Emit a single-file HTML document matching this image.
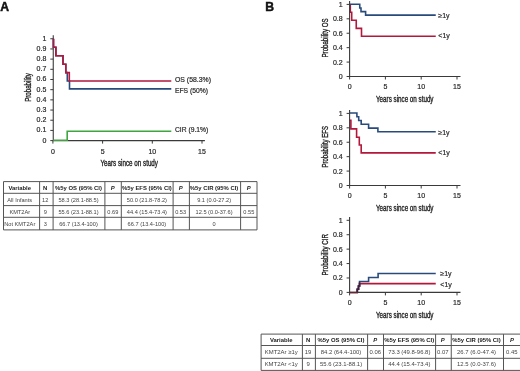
<!DOCTYPE html>
<html><head><meta charset="utf-8"><title>Figure</title>
<style>
html,body{margin:0;padding:0;background:#fff;}
body{width:520px;height:371px;overflow:hidden;}
svg{display:block;font-family:"Liberation Sans", sans-serif;will-change:transform;}
</style></head><body>
<svg width="520" height="371" viewBox="0 0 520 371">
<rect width="520" height="371" fill="#fff"/>
<text x="0.2" y="10.55" font-size="12.2" font-weight="bold" fill="#111" stroke="#111" stroke-width="0.45">A</text>
<text x="265.2" y="10.55" font-size="12.2" font-weight="bold" fill="#111" stroke="#111" stroke-width="0.45">B</text>
<path d="M53.25,35.3 V140.6 H204.9" fill="none" stroke="#3a3a3a" stroke-width="1.1"/>
<path d="M50.3,140.60 H53.25" stroke="#3a3a3a" stroke-width="1"/>
<text x="46.30" y="142.51" font-size="7" text-anchor="end" fill="#2a2a2a" stroke="#2a2a2a" stroke-width="0.2">0</text>
<path d="M50.3,130.41 H53.25" stroke="#3a3a3a" stroke-width="1"/>
<text x="46.30" y="132.32" font-size="7" text-anchor="end" fill="#2a2a2a" stroke="#2a2a2a" stroke-width="0.2">0.1</text>
<path d="M50.3,120.23 H53.25" stroke="#3a3a3a" stroke-width="1"/>
<text x="46.30" y="122.14" font-size="7" text-anchor="end" fill="#2a2a2a" stroke="#2a2a2a" stroke-width="0.2">0.2</text>
<path d="M50.3,110.05 H53.25" stroke="#3a3a3a" stroke-width="1"/>
<text x="46.30" y="111.95" font-size="7" text-anchor="end" fill="#2a2a2a" stroke="#2a2a2a" stroke-width="0.2">0.3</text>
<path d="M50.3,99.86 H53.25" stroke="#3a3a3a" stroke-width="1"/>
<text x="46.30" y="101.77" font-size="7" text-anchor="end" fill="#2a2a2a" stroke="#2a2a2a" stroke-width="0.2">0.4</text>
<path d="M50.3,89.67 H53.25" stroke="#3a3a3a" stroke-width="1"/>
<text x="46.30" y="91.58" font-size="7" text-anchor="end" fill="#2a2a2a" stroke="#2a2a2a" stroke-width="0.2">0.5</text>
<path d="M50.3,79.49 H53.25" stroke="#3a3a3a" stroke-width="1"/>
<text x="46.30" y="81.40" font-size="7" text-anchor="end" fill="#2a2a2a" stroke="#2a2a2a" stroke-width="0.2">0.6</text>
<path d="M50.3,69.31 H53.25" stroke="#3a3a3a" stroke-width="1"/>
<text x="46.30" y="71.21" font-size="7" text-anchor="end" fill="#2a2a2a" stroke="#2a2a2a" stroke-width="0.2">0.7</text>
<path d="M50.3,59.12 H53.25" stroke="#3a3a3a" stroke-width="1"/>
<text x="46.30" y="61.03" font-size="7" text-anchor="end" fill="#2a2a2a" stroke="#2a2a2a" stroke-width="0.2">0.8</text>
<path d="M50.3,48.94 H53.25" stroke="#3a3a3a" stroke-width="1"/>
<text x="46.30" y="50.84" font-size="7" text-anchor="end" fill="#2a2a2a" stroke="#2a2a2a" stroke-width="0.2">0.9</text>
<path d="M50.3,38.75 H53.25" stroke="#3a3a3a" stroke-width="1"/>
<text x="46.30" y="40.66" font-size="7" text-anchor="end" fill="#2a2a2a" stroke="#2a2a2a" stroke-width="0.2">1</text>
<path d="M52.90,140.6 V143.6" stroke="#3a3a3a" stroke-width="1"/>
<text x="52.90" y="153.51" font-size="7" text-anchor="middle" fill="#2a2a2a" stroke="#2a2a2a" stroke-width="0.2">0</text>
<path d="M102.60,140.6 V143.6" stroke="#3a3a3a" stroke-width="1"/>
<text x="102.60" y="153.51" font-size="7" text-anchor="middle" fill="#2a2a2a" stroke="#2a2a2a" stroke-width="0.2">5</text>
<path d="M152.30,140.6 V143.6" stroke="#3a3a3a" stroke-width="1"/>
<text x="152.30" y="153.51" font-size="7" text-anchor="middle" fill="#2a2a2a" stroke="#2a2a2a" stroke-width="0.2">10</text>
<path d="M202.00,140.6 V143.6" stroke="#3a3a3a" stroke-width="1"/>
<text x="202.00" y="153.51" font-size="7" text-anchor="middle" fill="#2a2a2a" stroke="#2a2a2a" stroke-width="0.2">15</text>
<text x="129.20" y="166.20" font-size="8.8" text-anchor="middle" textLength="57.6" lengthAdjust="spacingAndGlyphs" fill="#222" stroke="#222" stroke-width="0.35">Years since on study</text>
<text transform="translate(30.90,87.45) rotate(-90)" x="0" y="0" font-size="8.8" text-anchor="middle" textLength="28.7" lengthAdjust="spacingAndGlyphs" fill="#222" stroke="#222" stroke-width="0.35">Probability</text>
<path d="M53.25,140.3 H67.2 V131.3 H171.3" fill="none" stroke="#3fa63f" stroke-width="1.6"/>
<path d="M53.25,38.8 V47.2 H55.9 V55.7 H63.0 V64.2 H65.8 V72.6 H67.3 V81.0 H69.5 V88.9 H171.3" fill="none" stroke="#294b7c" stroke-width="1.6"/>
<path d="M53.7,38.8 V47.2 H55.9 V55.7 H63.0 V64.2 H65.8 V72.6 H69.3 V81.0 H171.3" fill="none" stroke="#b3173c" stroke-width="1.6"/>
<text x="175.00" y="82.41" font-size="7" textLength="36" lengthAdjust="spacingAndGlyphs" fill="#2a2a2a" stroke="#2a2a2a" stroke-width="0.2">OS (58.3%)</text>
<text x="175.00" y="92.81" font-size="7" textLength="33" lengthAdjust="spacingAndGlyphs" fill="#2a2a2a" stroke="#2a2a2a" stroke-width="0.2">EFS (50%)</text>
<text x="175.00" y="132.41" font-size="7" textLength="33.2" lengthAdjust="spacingAndGlyphs" fill="#2a2a2a" stroke="#2a2a2a" stroke-width="0.2">CIR (9.1%)</text>
<path d="M349.6,4.2 H359.75 V8.0 H361.0 V11.6 H365.6 V15.1 H435.75" fill="none" stroke="#294b7c" stroke-width="1.6"/>
<path d="M350.3,5.0 V12.2 H351.7 V20.2 H356.25 V28.4 H361.5 V36.3 H435.75" fill="none" stroke="#b3173c" stroke-width="1.6"/>
<path d="M349.6,1.00 V76.50 H460.5" fill="none" stroke="#3a3a3a" stroke-width="1.1"/>
<path d="M346.6,76.50 H349.6" stroke="#3a3a3a" stroke-width="1"/>
<text x="342.70" y="79.01" font-size="7" text-anchor="end" fill="#2a2a2a" stroke="#2a2a2a" stroke-width="0.2">0</text>
<path d="M346.6,62.08 H349.6" stroke="#3a3a3a" stroke-width="1"/>
<text x="342.70" y="64.59" font-size="7" text-anchor="end" fill="#2a2a2a" stroke="#2a2a2a" stroke-width="0.2">0.2</text>
<path d="M346.6,47.66 H349.6" stroke="#3a3a3a" stroke-width="1"/>
<text x="342.70" y="50.17" font-size="7" text-anchor="end" fill="#2a2a2a" stroke="#2a2a2a" stroke-width="0.2">0.4</text>
<path d="M346.6,33.24 H349.6" stroke="#3a3a3a" stroke-width="1"/>
<text x="342.70" y="35.75" font-size="7" text-anchor="end" fill="#2a2a2a" stroke="#2a2a2a" stroke-width="0.2">0.6</text>
<path d="M346.6,18.82 H349.6" stroke="#3a3a3a" stroke-width="1"/>
<text x="342.70" y="21.33" font-size="7" text-anchor="end" fill="#2a2a2a" stroke="#2a2a2a" stroke-width="0.2">0.8</text>
<path d="M346.6,4.40 H349.6" stroke="#3a3a3a" stroke-width="1"/>
<text x="342.70" y="6.91" font-size="7" text-anchor="end" fill="#2a2a2a" stroke="#2a2a2a" stroke-width="0.2">1</text>
<path d="M349.60,76.50 V79.50" stroke="#3a3a3a" stroke-width="1"/>
<text x="349.60" y="89.21" font-size="7" text-anchor="middle" fill="#2a2a2a" stroke="#2a2a2a" stroke-width="0.2">0</text>
<path d="M385.40,76.50 V79.50" stroke="#3a3a3a" stroke-width="1"/>
<text x="385.40" y="89.21" font-size="7" text-anchor="middle" fill="#2a2a2a" stroke="#2a2a2a" stroke-width="0.2">5</text>
<path d="M421.20,76.50 V79.50" stroke="#3a3a3a" stroke-width="1"/>
<text x="421.20" y="89.21" font-size="7" text-anchor="middle" fill="#2a2a2a" stroke="#2a2a2a" stroke-width="0.2">10</text>
<path d="M457.00,76.50 V79.50" stroke="#3a3a3a" stroke-width="1"/>
<text x="457.00" y="89.21" font-size="7" text-anchor="middle" fill="#2a2a2a" stroke="#2a2a2a" stroke-width="0.2">15</text>
<text x="404.75" y="101.80" font-size="8.8" text-anchor="middle" textLength="57.5" lengthAdjust="spacingAndGlyphs" fill="#222" stroke="#222" stroke-width="0.35">Years since on study</text>
<text transform="translate(327.90,37.90) rotate(-90)" x="0" y="0" font-size="8.8" text-anchor="middle" textLength="39.2" lengthAdjust="spacingAndGlyphs" fill="#222" stroke="#222" stroke-width="0.35">Probability OS</text>
<text x="438.30" y="18.01" font-size="7" fill="#2a2a2a" stroke="#2a2a2a" stroke-width="0.2">≥1y</text>
<text x="438.30" y="38.31" font-size="7" fill="#2a2a2a" stroke="#2a2a2a" stroke-width="0.2">&lt;1y</text>
<path d="M349.6,113.0 H356.9 V116.8 H358.7 V120.5 H361.2 V124.3 H368.6 V128.1 H377.9 V131.8 H435.75" fill="none" stroke="#294b7c" stroke-width="1.6"/>
<path d="M349.6,120.3 H350.9 V128.9 H356.6 V137.3 H359.3 V145.0 H361.2 V152.9 H435.75" fill="none" stroke="#b3173c" stroke-width="1.6"/>
<path d="M349.6,110.00 V185.50 H460.5" fill="none" stroke="#3a3a3a" stroke-width="1.1"/>
<path d="M346.6,185.50 H349.6" stroke="#3a3a3a" stroke-width="1"/>
<text x="342.70" y="188.01" font-size="7" text-anchor="end" fill="#2a2a2a" stroke="#2a2a2a" stroke-width="0.2">0</text>
<path d="M346.6,171.08 H349.6" stroke="#3a3a3a" stroke-width="1"/>
<text x="342.70" y="173.59" font-size="7" text-anchor="end" fill="#2a2a2a" stroke="#2a2a2a" stroke-width="0.2">0.2</text>
<path d="M346.6,156.66 H349.6" stroke="#3a3a3a" stroke-width="1"/>
<text x="342.70" y="159.17" font-size="7" text-anchor="end" fill="#2a2a2a" stroke="#2a2a2a" stroke-width="0.2">0.4</text>
<path d="M346.6,142.24 H349.6" stroke="#3a3a3a" stroke-width="1"/>
<text x="342.70" y="144.75" font-size="7" text-anchor="end" fill="#2a2a2a" stroke="#2a2a2a" stroke-width="0.2">0.6</text>
<path d="M346.6,127.82 H349.6" stroke="#3a3a3a" stroke-width="1"/>
<text x="342.70" y="130.33" font-size="7" text-anchor="end" fill="#2a2a2a" stroke="#2a2a2a" stroke-width="0.2">0.8</text>
<path d="M346.6,113.40 H349.6" stroke="#3a3a3a" stroke-width="1"/>
<text x="342.70" y="115.91" font-size="7" text-anchor="end" fill="#2a2a2a" stroke="#2a2a2a" stroke-width="0.2">1</text>
<path d="M349.60,185.50 V188.50" stroke="#3a3a3a" stroke-width="1"/>
<text x="349.60" y="198.21" font-size="7" text-anchor="middle" fill="#2a2a2a" stroke="#2a2a2a" stroke-width="0.2">0</text>
<path d="M385.40,185.50 V188.50" stroke="#3a3a3a" stroke-width="1"/>
<text x="385.40" y="198.21" font-size="7" text-anchor="middle" fill="#2a2a2a" stroke="#2a2a2a" stroke-width="0.2">5</text>
<path d="M421.20,185.50 V188.50" stroke="#3a3a3a" stroke-width="1"/>
<text x="421.20" y="198.21" font-size="7" text-anchor="middle" fill="#2a2a2a" stroke="#2a2a2a" stroke-width="0.2">10</text>
<path d="M457.00,185.50 V188.50" stroke="#3a3a3a" stroke-width="1"/>
<text x="457.00" y="198.21" font-size="7" text-anchor="middle" fill="#2a2a2a" stroke="#2a2a2a" stroke-width="0.2">15</text>
<text x="404.75" y="210.80" font-size="8.8" text-anchor="middle" textLength="57.5" lengthAdjust="spacingAndGlyphs" fill="#222" stroke="#222" stroke-width="0.35">Years since on study</text>
<text transform="translate(327.90,146.80) rotate(-90)" x="0" y="0" font-size="8.8" text-anchor="middle" textLength="41.5" lengthAdjust="spacingAndGlyphs" fill="#222" stroke="#222" stroke-width="0.35">Probability EFS</text>
<text x="438.30" y="134.51" font-size="7" fill="#2a2a2a" stroke="#2a2a2a" stroke-width="0.2">≥1y</text>
<text x="438.30" y="155.41" font-size="7" fill="#2a2a2a" stroke="#2a2a2a" stroke-width="0.2">&lt;1y</text>
<path d="M349.6,292.6 H357.3 V289.3 H358.5 V286.0 H359.55 V283.6 H435.75" fill="none" stroke="#b3173c" stroke-width="1.6"/>
<path d="M357.3,292.4 V289.3 H358.5 V286.0 H359.55 V281.5 H368.6 V277.5 H378.1 V273.5 H435.75" fill="none" stroke="#294b7c" stroke-width="1.6"/>
<path d="M357.3,292.4 V289.3 H358.5 V286.0 H359.55 V282.6" fill="none" stroke="#3d1f3a" stroke-width="1.6"/>
<path d="M349.6,216.90 V292.40 H460.5" fill="none" stroke="#3a3a3a" stroke-width="1.1"/>
<path d="M346.6,292.40 H349.6" stroke="#3a3a3a" stroke-width="1"/>
<text x="342.70" y="294.91" font-size="7" text-anchor="end" fill="#2a2a2a" stroke="#2a2a2a" stroke-width="0.2">0</text>
<path d="M346.6,277.98 H349.6" stroke="#3a3a3a" stroke-width="1"/>
<text x="342.70" y="280.49" font-size="7" text-anchor="end" fill="#2a2a2a" stroke="#2a2a2a" stroke-width="0.2">0.2</text>
<path d="M346.6,263.56 H349.6" stroke="#3a3a3a" stroke-width="1"/>
<text x="342.70" y="266.07" font-size="7" text-anchor="end" fill="#2a2a2a" stroke="#2a2a2a" stroke-width="0.2">0.4</text>
<path d="M346.6,249.14 H349.6" stroke="#3a3a3a" stroke-width="1"/>
<text x="342.70" y="251.65" font-size="7" text-anchor="end" fill="#2a2a2a" stroke="#2a2a2a" stroke-width="0.2">0.6</text>
<path d="M346.6,234.72 H349.6" stroke="#3a3a3a" stroke-width="1"/>
<text x="342.70" y="237.23" font-size="7" text-anchor="end" fill="#2a2a2a" stroke="#2a2a2a" stroke-width="0.2">0.8</text>
<path d="M346.6,220.30 H349.6" stroke="#3a3a3a" stroke-width="1"/>
<text x="342.70" y="222.81" font-size="7" text-anchor="end" fill="#2a2a2a" stroke="#2a2a2a" stroke-width="0.2">1</text>
<path d="M349.60,292.40 V295.40" stroke="#3a3a3a" stroke-width="1"/>
<text x="349.60" y="305.11" font-size="7" text-anchor="middle" fill="#2a2a2a" stroke="#2a2a2a" stroke-width="0.2">0</text>
<path d="M385.40,292.40 V295.40" stroke="#3a3a3a" stroke-width="1"/>
<text x="385.40" y="305.11" font-size="7" text-anchor="middle" fill="#2a2a2a" stroke="#2a2a2a" stroke-width="0.2">5</text>
<path d="M421.20,292.40 V295.40" stroke="#3a3a3a" stroke-width="1"/>
<text x="421.20" y="305.11" font-size="7" text-anchor="middle" fill="#2a2a2a" stroke="#2a2a2a" stroke-width="0.2">10</text>
<path d="M457.00,292.40 V295.40" stroke="#3a3a3a" stroke-width="1"/>
<text x="457.00" y="305.11" font-size="7" text-anchor="middle" fill="#2a2a2a" stroke="#2a2a2a" stroke-width="0.2">15</text>
<text x="404.75" y="317.70" font-size="8.8" text-anchor="middle" textLength="57.5" lengthAdjust="spacingAndGlyphs" fill="#222" stroke="#222" stroke-width="0.35">Years since on study</text>
<text transform="translate(327.90,254.80) rotate(-90)" x="0" y="0" font-size="8.8" text-anchor="middle" textLength="41.5" lengthAdjust="spacingAndGlyphs" fill="#222" stroke="#222" stroke-width="0.35">Probability CIR</text>
<text x="440.30" y="275.71" font-size="7" fill="#2a2a2a" stroke="#2a2a2a" stroke-width="0.2">≥1y</text>
<text x="440.30" y="286.51" font-size="7" fill="#2a2a2a" stroke="#2a2a2a" stroke-width="0.2">&lt;1y</text>
<path d="M3.5,181.6 H257" stroke="#555" stroke-width="1"/>
<path d="M3.5,193.3 H257" stroke="#555" stroke-width="1"/>
<path d="M3.5,205.6 H257" stroke="#555" stroke-width="1"/>
<path d="M3.5,217.3 H257" stroke="#555" stroke-width="1"/>
<path d="M3.5,229.9 H257" stroke="#555" stroke-width="1"/>
<path d="M3.5,181.6 V229.9" stroke="#555" stroke-width="1"/>
<path d="M39.6,181.6 V229.9" stroke="#555" stroke-width="1"/>
<path d="M53.1,181.6 V229.9" stroke="#555" stroke-width="1"/>
<path d="M104.9,181.6 V229.9" stroke="#555" stroke-width="1"/>
<path d="M121.3,181.6 V229.9" stroke="#555" stroke-width="1"/>
<path d="M173.1,181.6 V229.9" stroke="#555" stroke-width="1"/>
<path d="M189.4,181.6 V229.9" stroke="#555" stroke-width="1"/>
<path d="M240.6,181.6 V229.9" stroke="#555" stroke-width="1"/>
<path d="M257,181.6 V229.9" stroke="#555" stroke-width="1"/>
<text x="19.75" y="189.56" font-size="5.9" text-anchor="middle" font-weight="bold" fill="#1a1a1a">Variable</text>
<text x="45.25" y="189.56" font-size="5.9" text-anchor="middle" font-weight="bold" fill="#1a1a1a">N</text>
<text x="78.50" y="189.56" font-size="5.9" text-anchor="middle" font-weight="bold" fill="#1a1a1a">%5y OS (95% CI)</text>
<text x="112.80" y="189.56" font-size="5.9" text-anchor="middle" font-weight="bold" font-style="italic" fill="#1a1a1a">P</text>
<text x="146.90" y="189.56" font-size="5.9" text-anchor="middle" font-weight="bold" fill="#1a1a1a">%5y EFS (95% CI)</text>
<text x="180.65" y="189.56" font-size="5.9" text-anchor="middle" font-weight="bold" font-style="italic" fill="#1a1a1a">P</text>
<text x="214.10" y="189.56" font-size="5.9" text-anchor="middle" font-weight="bold" fill="#1a1a1a">%5y CIR (95% CI)</text>
<text x="248.80" y="189.56" font-size="5.9" text-anchor="middle" font-weight="bold" font-style="italic" fill="#1a1a1a">P</text>
<text x="19.75" y="201.97" font-size="5.65" text-anchor="middle" fill="#444">All Infants</text>
<text x="45.25" y="201.97" font-size="5.65" text-anchor="middle" fill="#444">12</text>
<text x="78.50" y="201.97" font-size="5.65" text-anchor="middle" fill="#444">58.3 (28.1-88.5)</text>
<text x="146.90" y="201.97" font-size="5.65" text-anchor="middle" fill="#444">50.0 (21.8-78.2)</text>
<text x="214.10" y="201.97" font-size="5.65" text-anchor="middle" fill="#444">9.1 (0.0-27.2)</text>
<text x="19.75" y="213.97" font-size="5.65" text-anchor="middle" fill="#444">KMT2Ar</text>
<text x="45.25" y="213.97" font-size="5.65" text-anchor="middle" fill="#444">9</text>
<text x="78.50" y="213.97" font-size="5.65" text-anchor="middle" fill="#444">55.6 (23.1-88.1)</text>
<text x="112.80" y="213.97" font-size="5.65" text-anchor="middle" fill="#444">0.69</text>
<text x="146.90" y="213.97" font-size="5.65" text-anchor="middle" fill="#444">44.4 (15.4-73.4)</text>
<text x="180.65" y="213.97" font-size="5.65" text-anchor="middle" fill="#444">0.53</text>
<text x="214.10" y="213.97" font-size="5.65" text-anchor="middle" fill="#444">12.5 (0.0-37.6)</text>
<text x="248.80" y="213.97" font-size="5.65" text-anchor="middle" fill="#444">0.55</text>
<text x="19.75" y="226.12" font-size="5.65" text-anchor="middle" fill="#444">Not KMT2Ar</text>
<text x="45.25" y="226.12" font-size="5.65" text-anchor="middle" fill="#444">3</text>
<text x="78.50" y="226.12" font-size="5.65" text-anchor="middle" fill="#444">66.7 (13.4-100)</text>
<text x="146.90" y="226.12" font-size="5.65" text-anchor="middle" fill="#444">66.7 (13.4-100)</text>
<text x="214.10" y="226.12" font-size="5.65" text-anchor="middle" fill="#444">0</text>
<path d="M261.1,334.1 H521" stroke="#555" stroke-width="1"/>
<path d="M261.1,345.5 H521" stroke="#555" stroke-width="1"/>
<path d="M261.1,358.3 H521" stroke="#555" stroke-width="1"/>
<path d="M261.1,370.4 H521" stroke="#555" stroke-width="1"/>
<path d="M261.1,334.1 V370.4" stroke="#555" stroke-width="1"/>
<path d="M302.4,334.1 V370.4" stroke="#555" stroke-width="1"/>
<path d="M315.4,334.1 V370.4" stroke="#555" stroke-width="1"/>
<path d="M367.6,334.1 V370.4" stroke="#555" stroke-width="1"/>
<path d="M383.5,334.1 V370.4" stroke="#555" stroke-width="1"/>
<path d="M435.6,334.1 V370.4" stroke="#555" stroke-width="1"/>
<path d="M451.25,334.1 V370.4" stroke="#555" stroke-width="1"/>
<path d="M503.5,334.1 V370.4" stroke="#555" stroke-width="1"/>
<path d="M521,334.1 V370.4" stroke="#555" stroke-width="1"/>
<text x="281.25" y="341.91" font-size="5.9" text-anchor="middle" font-weight="bold" fill="#1a1a1a">Variable</text>
<text x="308.10" y="341.91" font-size="5.9" text-anchor="middle" font-weight="bold" fill="#1a1a1a">N</text>
<text x="341.00" y="341.91" font-size="5.9" text-anchor="middle" font-weight="bold" fill="#1a1a1a">%5y OS (95% CI)</text>
<text x="375.25" y="341.91" font-size="5.9" text-anchor="middle" font-weight="bold" font-style="italic" fill="#1a1a1a">P</text>
<text x="409.25" y="341.91" font-size="5.9" text-anchor="middle" font-weight="bold" fill="#1a1a1a">%5y EFS (95% CI)</text>
<text x="442.82" y="341.91" font-size="5.9" text-anchor="middle" font-weight="bold" font-style="italic" fill="#1a1a1a">P</text>
<text x="476.48" y="341.91" font-size="5.9" text-anchor="middle" font-weight="bold" fill="#1a1a1a">%5y CIR (95% CI)</text>
<text x="511.85" y="341.91" font-size="5.9" text-anchor="middle" font-weight="bold" font-style="italic" fill="#1a1a1a">P</text>
<text x="281.25" y="353.93" font-size="5.95" text-anchor="middle" fill="#444">KMT2Ar ≥1y</text>
<text x="308.10" y="353.93" font-size="5.95" text-anchor="middle" fill="#444">19</text>
<text x="341.00" y="353.93" font-size="5.95" text-anchor="middle" fill="#444">84.2 (64.4-100)</text>
<text x="375.25" y="353.93" font-size="5.95" text-anchor="middle" fill="#444">0.06</text>
<text x="409.25" y="353.93" font-size="5.95" text-anchor="middle" fill="#444">73.3 (49.8-96.8)</text>
<text x="442.82" y="353.93" font-size="5.95" text-anchor="middle" fill="#444">0.07</text>
<text x="476.48" y="353.93" font-size="5.95" text-anchor="middle" fill="#444">26.7 (6.0-47.4)</text>
<text x="511.85" y="353.93" font-size="5.95" text-anchor="middle" fill="#444">0.45</text>
<text x="281.25" y="366.38" font-size="5.95" text-anchor="middle" fill="#444">KMT2Ar &lt;1y</text>
<text x="308.10" y="366.38" font-size="5.95" text-anchor="middle" fill="#444">9</text>
<text x="341.00" y="366.38" font-size="5.95" text-anchor="middle" fill="#444">55.6 (23.1-88.1)</text>
<text x="409.25" y="366.38" font-size="5.95" text-anchor="middle" fill="#444">44.4 (15.4-73.4)</text>
<text x="476.48" y="366.38" font-size="5.95" text-anchor="middle" fill="#444">12.5 (0.0-37.6)</text>
</svg>
</body></html>
